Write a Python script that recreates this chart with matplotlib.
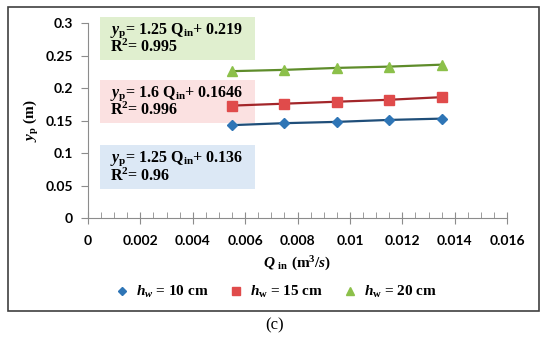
import matplotlib
matplotlib.use('Agg')
import matplotlib.pyplot as plt
from matplotlib.patches import Rectangle

plt.rcParams['mathtext.fontset'] = 'custom'
plt.rcParams['mathtext.it'] = 'Liberation Serif:italic:bold'
plt.rcParams['mathtext.rm'] = 'Liberation Serif:bold'
plt.rcParams['mathtext.bf'] = 'Liberation Serif:bold'

# data
q_in = [0.0055, 0.0075, 0.0095, 0.0115, 0.0135]
yp_10 = [0.143, 0.146, 0.148, 0.151, 0.153]
yp_15 = [0.173, 0.176, 0.179, 0.182, 0.186]
yp_20 = [0.226, 0.228, 0.231, 0.233, 0.236]

xticks = [0, 0.002, 0.004, 0.006, 0.008, 0.01, 0.012, 0.014, 0.016]
xticklabels = ['0', '0.002', '0.004', '0.006', '0.008', '0.01', '0.012', '0.014', '0.016']
yticks = [0, 0.05, 0.1, 0.15, 0.2, 0.25, 0.3]
yticklabels = ['0', '0.05', '0.1', '0.15', '0.2', '0.25', '0.3']

labels = [r'$h_w$ = 10 cm', r'$h_{\rm w}$ = 15 cm', r'$h_{\rm w}$ = 20 cm']
eqs = [r'$y_{\rm p}$= 1.25 Q$_{\rm in}$+ 0.136' + '\n' + r'R$^{\rm 2}$= 0.96',
       r'$y_{\rm p}$= 1.6 Q$_{\rm in}$+ 0.1646' + '\n' + r'R$^{\rm 2}$= 0.996',
       r'$y_{\rm p}$= 1.25 Q$_{\rm in}$+ 0.219' + '\n' + r'R$^{\rm 2}$= 0.995']

marker_cols = ['#2e75b6', '#e04b4b', '#8cc04a']
line_cols = ['#1f4e79', '#a3262a', '#5e8c2a']
box_cols = ['#dce8f5', '#fbe1e1', '#e0efcf']
markers = ['D', 's', '^']
msizes = [5, 7, 7]

fig = plt.figure(figsize=(5.5, 3.44), dpi=100)
ax = fig.add_axes([0.16, 0.366, 0.762, 0.567])

for ys, mc, lc, mk, ms, lab in zip([yp_10, yp_15, yp_20], marker_cols, line_cols, markers, msizes, labels):
    ax.plot(q_in, ys, color=lc, lw=1.6, zorder=2)
    ax.plot(q_in, ys, ls='none', marker=mk, ms=ms, color=mc, mec=mc, label=lab, zorder=3)

# equation boxes
box_y = [(0.0446, 0.112), (0.146, 0.212), (0.243, 0.309)]
for (y0, y1), bc, eq in zip(box_y, box_cols, eqs):
    ax.add_patch(Rectangle((0.00046, y0), 0.0059, y1 - y0, facecolor=bc,
                           edgecolor='none', clip_on=False, zorder=1))
    ax.text(0.00085, (y0 + y1) / 2, eq, fontsize=11.5, va='center', ha='left',
            family='Liberation Serif', fontweight='bold', linespacing=0.95, zorder=4)

ax.set_xlim(0, 0.016)
ax.set_ylim(0, 0.3)
ax.set_xticks(xticks)
ax.set_xticklabels(xticklabels)
ax.set_xticks([i * 0.0005 for i in range(33)], minor=True)
ax.set_yticks(yticks)
ax.set_yticklabels(yticklabels)
for s in ['top', 'right']:
    ax.spines[s].set_visible(False)
for s in ['left', 'bottom']:
    ax.spines[s].set_color('#8c8c8c')
ax.tick_params(axis='x', which='major', direction='inout', length=8, color='#8c8c8c', pad=8)
ax.tick_params(axis='x', which='minor', direction='in', length=4, color='#8c8c8c')
ax.tick_params(axis='y', which='major', direction='out', length=5, color='#8c8c8c', pad=6)
for t in ax.get_xticklabels() + ax.get_yticklabels():
    t.set_family('Lato')
    t.set_fontweight('bold')
    t.set_fontsize(10)

ax.set_xlabel(r'$Q$ $_{\rm in}$ (m$^{\rm 3}$/$s$)', fontsize=11, family='Liberation Serif',
              fontweight='bold', labelpad=6)
ax.set_ylabel(r'$y_{\rm p}$ (m)', fontsize=11, family='Liberation Serif', fontweight='bold', labelpad=3)

fig.legend(loc='center', bbox_to_anchor=(0.5, 0.151), ncol=3, frameon=False,
           prop={'family': 'Liberation Serif', 'weight': 'bold', 'size': 11},
           handletextpad=0.3, columnspacing=1.2, handlelength=1.2, markerscale=0.75)

# outer frame
fig.patches.append(Rectangle((0.015, 0.096), 0.965, 0.884, transform=fig.transFigure,
                             fill=False, edgecolor='#404040', lw=1.2))
fig.text(0.5, 0.055, '(c)', ha='center', va='center', fontsize=12, family='Liberation Serif')

fig.savefig('out.png', dpi=100)
